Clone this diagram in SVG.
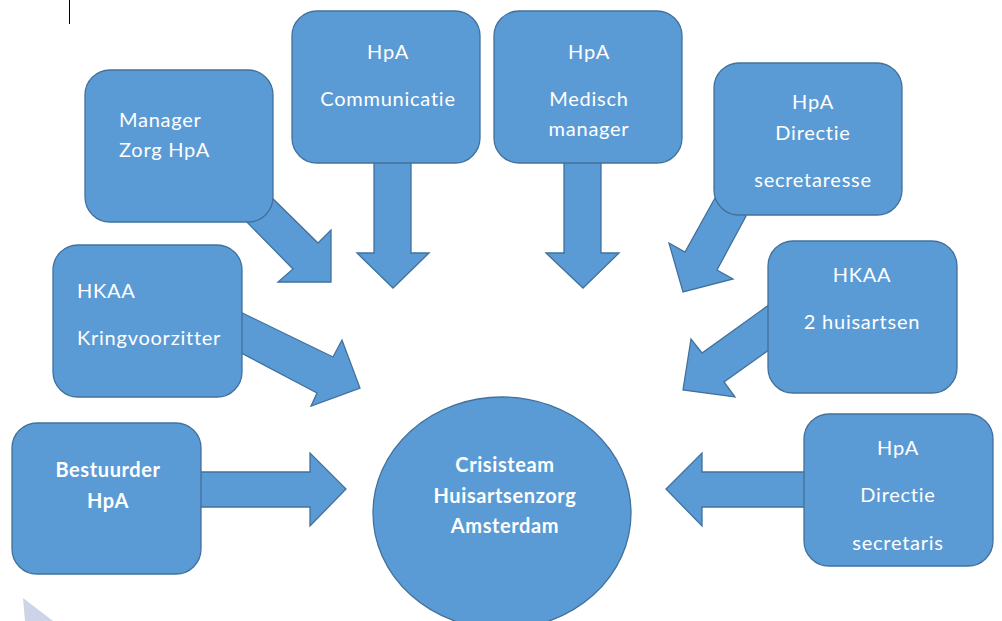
<svg xmlns="http://www.w3.org/2000/svg" width="1002" height="621" viewBox="0 0 1002 621">
<style>
.shape{fill:#5B9BD5;stroke:#41719C;stroke-width:1.3;stroke-linejoin:miter}
.t{fill:#FFFFFF;font-family:Lato,"Open Sans","Liberation Sans",sans-serif;font-size:20px;letter-spacing:0.75px}
.c{text-anchor:middle}
.b{font-weight:bold;letter-spacing:0.6px}
</style>
<rect width="1002" height="621" fill="#FFFFFF"/>
<line x1="69.5" y1="0" x2="69.5" y2="24" stroke="#000000" stroke-width="1"/>
<polygon points="23,598 53,621 25,621" fill="#CDD4E8"/>
<g id="connectors">
  <polygon class="shape" points="262,188 318,243 331,230 331,282 278,282 293,269 238,213"/>
  <polygon class="shape" points="374,150 411,150 411,253 429,253 393,288 357,253 374,253"/>
  <polygon class="shape" points="564,150 601,150 601,253 619,253 583,288 546,253 564,253"/>
  <polygon class="shape" points="722,186 746,200 746,216 717,270 733,279 683,292 669,243 685,252 715,198"/>
  <polygon class="shape" points="230,307 333,357 342,340 360,388 311,406 317,393 230,347"/>
  <polygon class="shape" points="190,472 310,472 310,453 346,489 310,526 310,507 190,507"/>
  <polygon class="shape" points="780,297 702,353 691,339 683,390 735,397 724,382 780,342"/>
  <polygon class="shape" points="815,472 702,472 702,453 666,489 702,526 702,507 815,507"/>
</g>
<g id="manager-zorg">
  <rect class="shape" x="85" y="70" width="188" height="152" rx="25"/>
  <text class="t" x="119" y="127">Manager</text>
  <text class="t" x="119" y="157">Zorg HpA</text>
</g>
<g id="communicatie">
  <rect class="shape" x="292" y="11" width="188" height="152" rx="25"/>
  <text class="t c" x="388" y="59">HpA</text>
  <text class="t c" x="388" y="106">Communicatie</text>
</g>
<g id="medisch-manager">
  <rect class="shape" x="494" y="11" width="188" height="152" rx="25"/>
  <text class="t c" x="589" y="59">HpA</text>
  <text class="t c" x="589" y="106">Medisch</text>
  <text class="t c" x="589" y="136">manager</text>
</g>
<g id="directie-secretaresse">
  <rect class="shape" x="714" y="63" width="188" height="152" rx="25"/>
  <text class="t c" x="813" y="109">HpA</text>
  <text class="t c" x="813" y="140">Directie</text>
  <text class="t c" x="813" y="187">secretaresse</text>
</g>
<g id="hkaa-huisartsen">
  <rect class="shape" x="768" y="241" width="189" height="152" rx="25"/>
  <text class="t c" x="862" y="282">HKAA</text>
  <text class="t c" x="862" y="329">2 huisartsen</text>
</g>
<g id="hkaa-kringvoorzitter">
  <rect class="shape" x="53" y="245" width="189" height="152" rx="25"/>
  <text class="t" x="77" y="298">HKAA</text>
  <text class="t" x="77" y="345">Kringvoorzitter</text>
</g>
<g id="bestuurder">
  <rect class="shape" x="12" y="423" width="189" height="151" rx="25"/>
  <text class="t c b" x="108" y="477">Bestuurder</text>
  <text class="t c b" x="108" y="508">HpA</text>
</g>
<g id="directie-secretaris">
  <rect class="shape" x="804" y="414" width="189" height="152" rx="25"/>
  <text class="t c" x="898" y="455">HpA</text>
  <text class="t c" x="898" y="502">Directie</text>
  <text class="t c" x="898" y="550">secretaris</text>
</g>
<g id="crisisteam">
  <ellipse class="shape" cx="502" cy="513" rx="129" ry="116"/>
  <text class="t c b" x="505" y="472">Crisisteam</text>
  <text class="t c b" x="505" y="503">Huisartsenzorg</text>
  <text class="t c b" x="505" y="533">Amsterdam</text>
</g>
</svg>
